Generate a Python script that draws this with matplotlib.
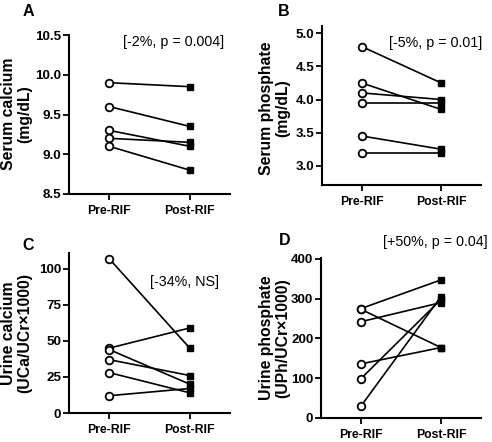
import matplotlib
matplotlib.use("Agg")
import matplotlib.pyplot as plt

plt.rcParams['font.family'] = ['Liberation Sans', 'DejaVu Sans']

W, H = 492, 442
DPI = 100

groups = ["Pre-RIF", "Post-RIF"]

A_pre = [9.9, 9.6, 9.3, 9.2, 9.1]
A_post = [9.85, 9.35, 9.1, 9.15, 8.8]
A_yticks = [8.5, 9.0, 9.5, 10.0, 10.5]
A_ylabels = ["8.5", "9.0", "9.5", "10.0", "10.5"]

B_pre = [4.8, 4.25, 4.1, 3.95, 3.45, 3.2]
B_post = [4.25, 3.85, 4.0, 3.95, 3.25, 3.2]
B_yticks = [3.0, 3.5, 4.0, 4.5, 5.0]
B_ylabels = ["3.0", "3.5", "4.0", "4.5", "5.0"]

C_pre = [107, 45, 44, 37, 28, 12]
C_post = [45, 59, 20, 26, 14, 17]
C_yticks = [0, 25, 50, 75, 100]
C_ylabels = ["0", "25", "50", "75", "100"]

D_pre = [275, 273, 242, 136, 99, 30]
D_post = [347, 177, 290, 177, 298, 305]
D_yticks = [0, 100, 200, 300, 400]
D_ylabels = ["0", "100", "200", "300", "400"]

fig = plt.figure(figsize=(W / DPI, H / DPI), dpi=DPI)


def add_ax(left, top, right, bottom):
    return fig.add_axes([left / W, 1 - bottom / H, (right - left) / W, (bottom - top) / H])


def panel(box, pre, post, yticks, ylabels, ylim, letter, letter_xy,
          ylabel, ylabel_xy, note, note_xy):
    ax = add_ax(*box)
    for a, b in zip(pre, post):
        ax.plot([0, 1], [a, b], color='black', lw=1.2, zorder=2)
    ax.plot([0] * len(pre), pre, linestyle='none', marker='o', ms=5.5,
            mfc='white', mec='black', mew=1.3, zorder=3, clip_on=False)
    ax.plot([1] * len(post), post, linestyle='none', marker='s', ms=5.0,
            mfc='black', mec='black', zorder=3, clip_on=False)
    ax.set_xlim(-0.5, 1.5)
    ax.set_ylim(*ylim)
    ax.set_xticks([0, 1])
    ax.set_xticklabels(groups, fontsize=8.8, fontweight='bold')
    ax.set_yticks(yticks)
    ax.set_yticklabels(ylabels, fontsize=9.6, fontweight='bold')
    for s in ['top', 'right']:
        ax.spines[s].set_visible(False)
    for s in ['left', 'bottom']:
        ax.spines[s].set_linewidth(1.5)
    ax.tick_params(axis='both', direction='out', length=4, width=1.3, pad=1.5)
    ax.tick_params(axis='x', pad=4)
    fig.text(letter_xy[0] / W, 1 - letter_xy[1] / H, letter, fontsize=11.5,
             fontweight='bold', ha='center', va='center')
    fig.text(ylabel_xy[0] / W, 1 - ylabel_xy[1] / H, ylabel, fontsize=11.3,
             fontweight='bold', ha='center', va='center', rotation=90,
             multialignment='center', linespacing=1.1)
    fig.text(note_xy[0] / W, 1 - note_xy[1] / H, note, fontsize=10.3,
             ha='center', va='center')
    return ax


panel((69, 35, 230, 194), A_pre, A_post, A_yticks, A_ylabels, (8.5, 10.5),
      "A", (28, 12), "Serum calcium\n(mg/dL)", (17, 114),
      "[-2%, p = 0.004]", (173.5, 42))
panel((322, 26, 481, 185), B_pre, B_post, B_yticks, B_ylabels, (2.71, 5.11),
      "B", (284, 12), "Serum phosphate\n(mg/dL)", (275, 108),
      "[-5%, p = 0.01]", (435.5, 43))
panel((69, 253, 230, 413), C_pre, C_post, C_yticks, C_ylabels, (0, 111),
      "C", (28, 245), "Urine calcium\n(UCa/UCr\u00d71000)", (17, 333),
      "[-34%, NS]", (184, 282))
panel((321, 258, 481, 418), D_pre, D_post, D_yticks, D_ylabels, (0, 402),
      "D", (285, 241), "Urine phosphate\n(UPh/UCr\u00d71000)", (275, 338),
      "[+50%, p = 0.04]", (435.5, 242))

fig.savefig("out.png", dpi=DPI)
